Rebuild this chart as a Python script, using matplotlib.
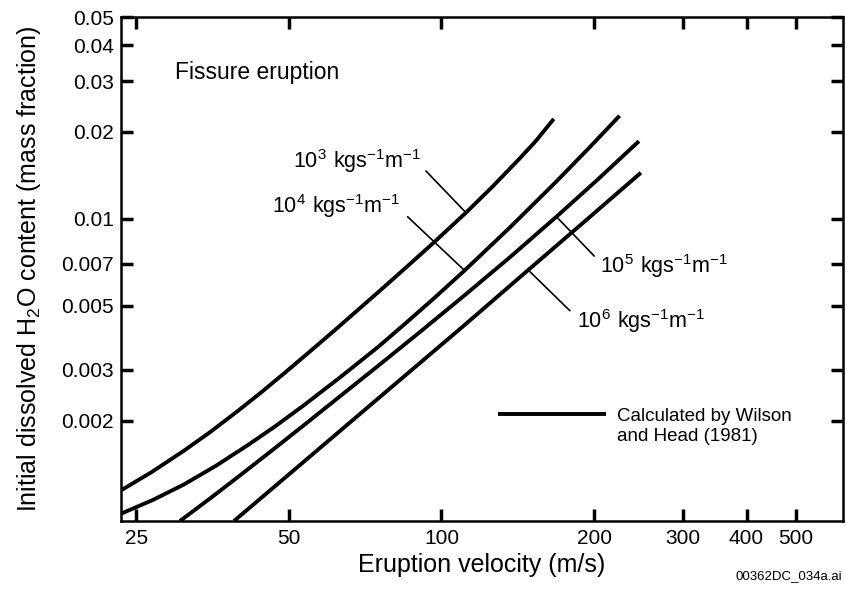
import matplotlib.pyplot as plt
from matplotlib.lines import Line2D

plt.rcParams['font.family'] = 'Liberation Sans'

# eruption velocity (m/s) vs initial dissolved H2O (mass fraction)
v_1e3 = [23.36, 26.83, 30.98, 34.92, 39.60, 44.23, 49.39, 55.01, 61.63, 74.93,
         84.72, 95.76, 111.76, 125.8, 141.9, 153.6, 166.6]
h2o_1e3 = [0.001152, 0.001332, 0.001574, 0.001827, 0.002162, 0.002523, 0.002963, 0.003478,
           0.004127, 0.005570, 0.006742, 0.008177, 0.010513, 0.012886, 0.016032, 0.018627, 0.0222]
v_1e4 = [23.36, 26.95, 30.98, 35.88, 41.59, 46.93, 53.17, 63.04, 74.93, 85.10,
         97.08, 111.05, 136.5, 168.6, 196.4, 224.7]
h2o_1e4 = [0.000956, 0.001065, 0.001203, 0.001398, 0.001654, 0.001913, 0.002246, 0.002827,
           0.003602, 0.004365, 0.005350, 0.006630, 0.009346, 0.013486, 0.017753, 0.022768]
v_1e5 = [30.46, 34.92, 39.60, 45.86, 53.17, 63.04, 74.93, 90.69, 111.05, 136.5, 168.6, 203.6, 245.3]
h2o_1e5 = [0.000900, 0.001077, 0.001276, 0.001560, 0.001915, 0.002432, 0.003098, 0.004062,
           0.005440, 0.007371, 0.010178, 0.013714, 0.018582]
v_1e6 = [38.94, 53.17, 74.93, 111.05, 148.3, 191.9, 247.5]
h2o_1e6 = [0.000900, 0.001431, 0.002388, 0.004292, 0.006656, 0.009820, 0.014454]

curve_labels = [r'$\mathregular{10^3\ kgs^{-1}m^{-1}}$',
                r'$\mathregular{10^4\ kgs^{-1}m^{-1}}$',
                r'$\mathregular{10^5\ kgs^{-1}m^{-1}}$',
                r'$\mathregular{10^6\ kgs^{-1}m^{-1}}$']

xticks = [25, 50, 100, 200, 300, 400, 500]
yticks = [0.002, 0.003, 0.005, 0.007, 0.01, 0.02, 0.03, 0.04, 0.05]
yticklabels = ['0.002', '0.003', '0.005', '0.007', '0.01', '0.02', '0.03', '0.04', '0.05']

fig = plt.figure(figsize=(8.46, 5.89), dpi=100)
ax = fig.add_axes([0.143, 0.1154, 0.8534, 0.8557])

lw = 2.8
h = ax.plot(v_1e3, h2o_1e3, color='k', lw=lw, solid_capstyle='butt')[0]
ax.plot(v_1e4, h2o_1e4, color='k', lw=lw, solid_capstyle='butt')
ax.plot(v_1e5, h2o_1e5, color='k', lw=lw, solid_capstyle='butt')
ax.plot(v_1e6, h2o_1e6, color='k', lw=lw, solid_capstyle='butt')

ax.set_xscale('log')
ax.set_yscale('log')
ax.set_xlim(23.3, 620)
ax.set_ylim(0.0009, 0.05)
ax.set_xticks(xticks, [str(t) for t in xticks])
ax.set_yticks(yticks, yticklabels)
ax.minorticks_off()
ax.tick_params(which='both', direction='in', top=True, right=True,
               length=8.5, width=2.5, labelsize=15)
ax.tick_params(axis='x', pad=6)
ax.tick_params(axis='y', pad=5)
for s in ax.spines.values():
    s.set_linewidth(1.8)

# leader lines from labels to curves (offsets in points)
anchors = [(v_1e3[12], h2o_1e3[12]), (v_1e4[11], h2o_1e4[11]),
           (v_1e5[10], h2o_1e5[10]), (v_1e6[4], h2o_1e6[4])]
line_off = [(-28.8, 30.0), (-41.0, 38.7), (27.2, -28.3), (30.0, -29.3)]
text_off = [(-124.6, 31.9), (-138.7, 41.2), (31.3, -40.5), (34.8, -42.0)]
for (x, y), lo, to, lab in zip(anchors, line_off, text_off, curve_labels):
    ax.annotate('', xy=(x, y), xytext=lo, textcoords='offset points',
                arrowprops=dict(arrowstyle='-', lw=1.2, color='k', shrinkA=0, shrinkB=0))
    ax.annotate(lab, xy=(x, y), xytext=to, textcoords='offset points',
                fontsize=15.5, ha='left', va='baseline')

ax.text(0.075, 0.89, 'Fissure eruption', transform=ax.transAxes, fontsize=16.5,
        ha='left', va='center')

blank = Line2D([], [], color='none')
ax.legend([h, blank], ['Calculated by Wilson', 'and Head (1981)'], loc='upper left',
          bbox_to_anchor=(0.522, 0.225), frameon=False, fontsize=13.5,
          handlelength=5.76, handletextpad=0.57, borderpad=0, borderaxespad=0,
          labelspacing=0.15)

ax.set_xlabel('Eruption velocity (m/s)', fontsize=18, labelpad=3)
ax.set_ylabel(r'Initial dissolved H$\mathregular{_2}$O content (mass fraction)',
              fontsize=18, labelpad=13)

fig.text(0.996, 0.022, '00362DC_034a.ai', fontsize=9.5, ha='right', va='center')

fig.savefig('out.png', dpi=100)
